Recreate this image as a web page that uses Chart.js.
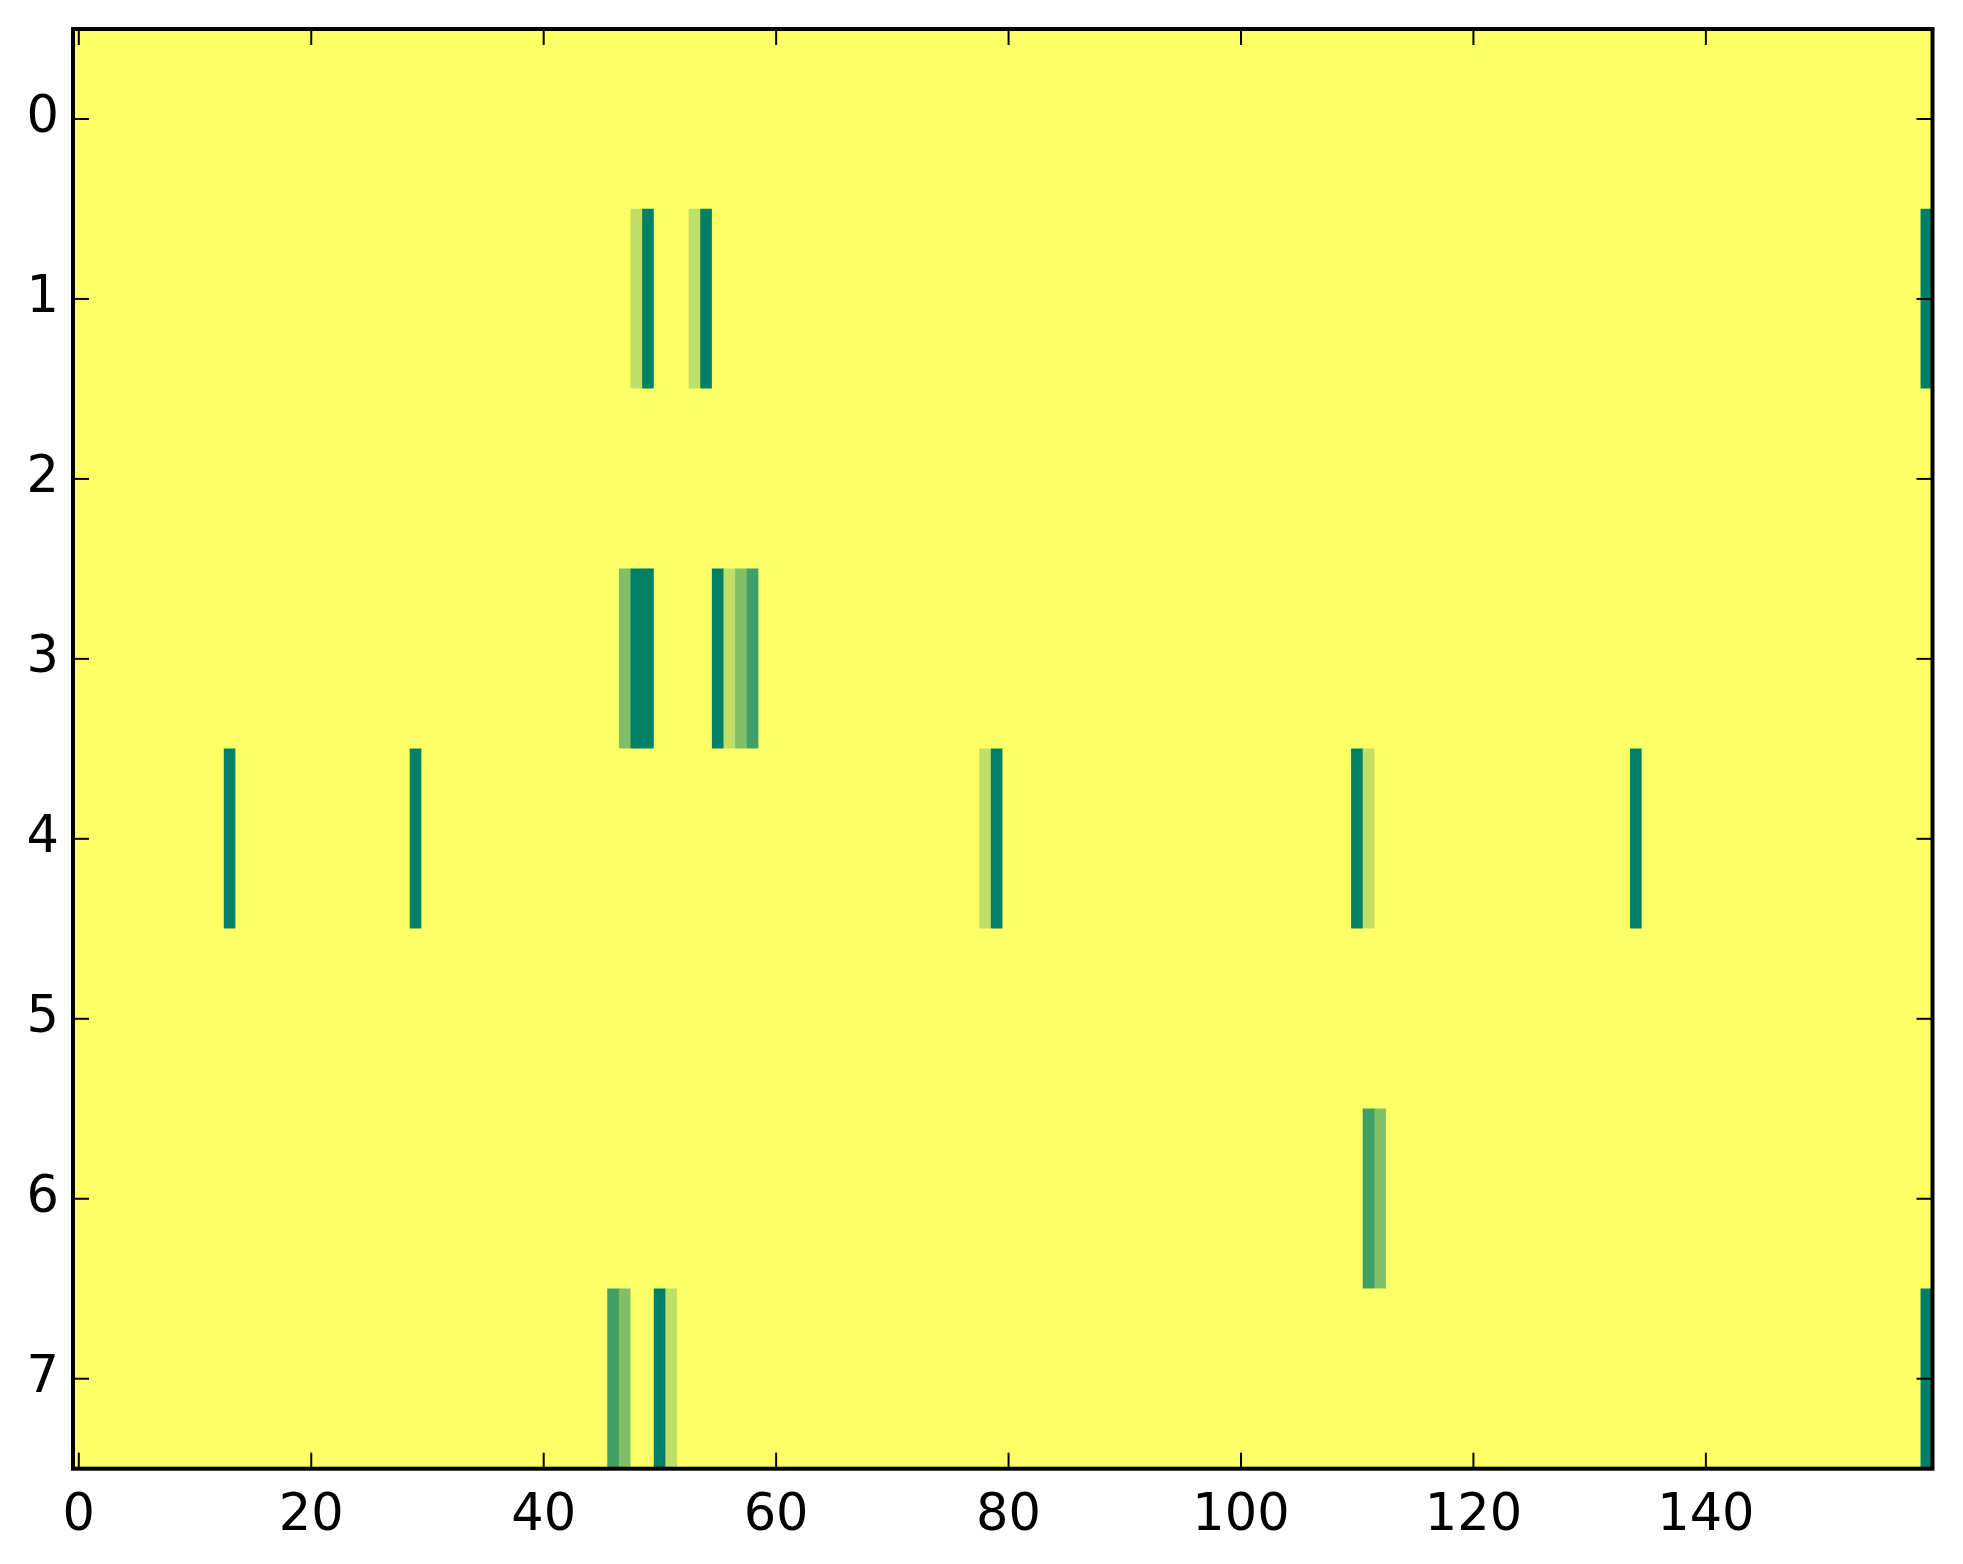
<!DOCTYPE html>
<html>
<head>
<meta charset="utf-8">
<script src="https://cdn.jsdelivr.net/npm/chart.js@4.4.0/dist/chart.umd.min.js"></script>
<style>
  html, body { margin: 0; padding: 0; background: #fff; }
</style>
</head>
<body>
<canvas id="heat" width="1963" height="1564"></canvas>
<script>
// grid size and tick labels
const rowLabels = ['0', '1', '2', '3', '4', '5', '6', '7'];
const numCols = 160;
const xTicks = [0, 20, 40, 60, 80, 100, 120, 140];

// every cell not listed below sits at the top of the scale
const fillValue = 1;
const cellRow   = [1, 1, 1, 1, 1,    3, 3, 3, 3, 3, 3, 3,    4, 4, 4, 4, 4, 4, 4,    6, 6,    7, 7, 7, 7, 7];
const cellCol   = [48, 49, 53, 54, 159,    47, 48, 49, 55, 56, 57, 58,    13, 29, 78, 79, 110, 111, 134,    111, 112,    46, 47, 50, 51, 159];
const cellValue = [0.75, 0, 0.75, 0, 0,    0.5, 0, 0, 0, 0.75, 0.5, 0.25,    0, 0, 0.75, 0, 0, 0.75, 0,    0.25, 0.5,    0.25, 0.5, 0, 0.75, 0];

// matplotlib "summer" colormap
function summer(v) {
  return 'rgb(' + Math.round(255 * v) + ',' + Math.round(127.5 + 127.5 * v) + ',102)';
}

const grid = rowLabels.map(() => new Array(numCols).fill(fillValue));
cellRow.forEach((r, i) => { grid[r][cellCol[i]] = cellValue[i]; });

const cells = [];
grid.forEach((row, r) => {
  row.forEach((v, c) => cells.push({ x: [c - 0.5, c + 0.5], y: rowLabels[r], v: v }));
});

const tickFont = { family: 'DejaVu Sans', size: 51 };
const tickLen = 16;

// yellow base under the cells, then inward ticks and the black frame
const framePlugin = {
  id: 'frame',
  beforeDatasetsDraw(chart) {
    const { ctx, chartArea: a } = chart;
    ctx.save();
    ctx.fillStyle = summer(fillValue);
    ctx.fillRect(a.left, a.top, a.right - a.left, a.bottom - a.top);
    ctx.restore();
  },
  afterDatasetsDraw(chart) {
    const { ctx, chartArea: a, scales } = chart;
    const line = (x1, y1, x2, y2) => {
      ctx.beginPath(); ctx.moveTo(x1, y1); ctx.lineTo(x2, y2); ctx.stroke();
    };
    ctx.save();
    ctx.strokeStyle = '#000';
    ctx.lineWidth = 2;
    xTicks.forEach(v => {
      const px = scales.x.getPixelForValue(v);
      line(px, a.bottom, px, a.bottom - tickLen);
      line(px, a.top, px, a.top + tickLen);
    });
    rowLabels.forEach((l, i) => {
      const py = scales.y.getPixelForValue(i);
      line(a.left, py, a.left + tickLen, py);
      line(a.right, py, a.right - tickLen, py);
    });
    ctx.lineWidth = 4;
    ctx.strokeRect(a.left, a.top, a.right - a.left, a.bottom - a.top);
    ctx.restore();
  }
};

new Chart(document.getElementById('heat'), {
  type: 'bar',
  data: {
    labels: rowLabels,
    datasets: [{
      data: cells,
      backgroundColor: c => summer(c.raw.v),
      borderWidth: 0,
      barPercentage: 1,
      categoryPercentage: 1
    }]
  },
  options: {
    indexAxis: 'y',
    responsive: false,
    animation: false,
    devicePixelRatio: 1,
    layout: { padding: { top: 29, right: 30.5, left: 0, bottom: 0 } },
    plugins: { legend: { display: false }, tooltip: { enabled: false } },
    scales: {
      x: {
        type: 'linear',
        min: -0.5,
        max: 159.5,
        afterBuildTicks: s => { s.ticks = xTicks.map(v => ({ value: v })); },
        afterFit: s => { s.height = 95.3; s.paddingLeft = 0; s.paddingRight = 0; },
        grid: { display: false, drawTicks: false },
        border: { display: false },
        ticks: { font: tickFont, color: '#000', padding: 17, maxRotation: 0, autoSkip: false }
      },
      y: {
        type: 'category',
        offset: true,
        afterFit: s => { s.width = 73; s.paddingTop = 0; s.paddingBottom = 0; },
        grid: { display: false, drawTicks: false },
        border: { display: false },
        ticks: { font: tickFont, color: '#000', padding: 14, autoSkip: false }
      }
    }
  },
  plugins: [framePlugin]
});
</script>
</body>
</html>
